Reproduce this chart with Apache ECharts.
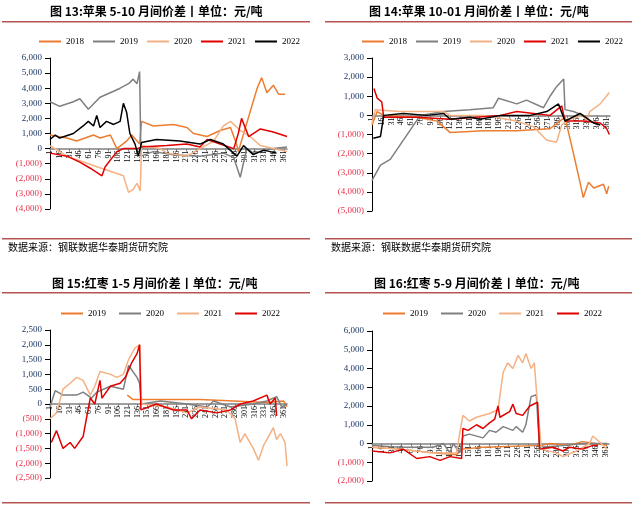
<!DOCTYPE html>
<html>
<head>
<meta charset="utf-8">
<script src="https://cdn.jsdelivr.net/npm/echarts@6/dist/echarts.min.js"></script>
<style>html,body{margin:0;padding:0;background:#fff}#c{width:634px;height:505px}</style>
</head>
<body>
<div id="c"></div>
<script>
// day (1..366), value pairs
var days = [];
for (var d = 1; d <= 366; d++) days.push(String(d));

// 图13 苹果5-10
var a510_2018 = [[1,900],[27,700],[42,500],[68,900],[78,700],[94,900],[104,0],[119,500],[127,900],[135,500],[139,300],[142,1800],[160,1500],[191,1600],[212,1400],[222,1000],[243,800],[263,1200],[279,1400],[289,200],[291,-200],[320,4000],[327,4700],[335,3700],[345,4200],[353,3600],[363,3600]];
var a510_2019 = [[1,3100],[16,2800],[37,3100],[47,3300],[60,2600],[78,3400],[99,3800],[109,4000],[122,4300],[129,4600],[135,4300],[139,5100],[141,-500],[160,-200],[191,-400],[232,-500],[268,-300],[284,-600],[294,-1900],[304,0],[314,-300],[345,0],[366,100]];
var a510_2020 = [[1,200],[27,-500],[73,-1200],[94,-1500],[114,-1800],[122,-2900],[129,-2700],[135,-2300],[140,-2800],[142,200],[171,0],[181,-300],[212,-500],[232,0],[253,500],[268,1500],[279,1800],[294,1200],[309,800],[325,200],[345,0],[366,-200]];
var a510_2021 = [[1,-300],[27,-500],[47,-900],[63,-1300],[81,-1800],[86,-1200],[104,-200],[114,0],[135,0],[142,100],[181,200],[212,300],[232,100],[243,600],[263,300],[284,0],[291,1000],[296,2000],[307,800],[325,1300],[345,1100],[366,800]];
var a510_2022 = [[1,600],[9,900],[16,700],[37,1000],[52,1500],[60,1800],[68,1500],[73,2200],[78,1400],[88,1800],[99,1600],[109,1800],[114,3000],[119,2400],[124,1000],[132,300],[137,-500],[142,400],[165,600],[201,500],[232,300],[248,600],[268,300],[289,-500],[299,200],[314,-400],[330,-100],[350,-300]];

// 图14 苹果10-01
var a1001_2018 = [[1,-500],[9,200],[19,0],[70,-100],[101,-300],[121,-900],[172,-800],[223,-800],[274,-700],[289,-300],[297,-100],[310,-2000],[320,-3500],[325,-4300],[333,-3500],[341,-3800],[356,-3600],[361,-4100],[364,-3700]];
var a1001_2019 = [[1,-3400],[14,-2600],[29,-2300],[75,0],[111,200],[151,300],[187,400],[195,900],[223,600],[238,800],[264,400],[274,1000],[284,1500],[295,1900],[297,300],[310,200],[325,0],[330,-300]];
var a1001_2020 = [[1,-400],[6,300],[44,200],[111,200],[121,0],[172,0],[223,-300],[249,-600],[269,-1300],[284,-1400],[292,-500],[304,-200],[325,0],[330,-300],[335,200],[351,600],[365,1200]];
var a1001_2021 = [[4,1400],[9,900],[16,700],[19,-100],[70,-100],[121,-200],[198,0],[223,200],[249,100],[274,0],[292,500],[297,-300],[325,-300],[351,-400],[361,-700],[365,-1000]];
var a1001_2022 = [[3,-1200],[14,-1100],[16,-1200],[19,0],[49,100],[85,0],[111,100],[121,-200],[151,-100],[167,-200],[198,0],[244,0],[269,200],[287,600],[297,-300],[320,100],[341,-400],[351,-500]];

// 图15 红枣1-5
var j15_2019 = [[120,300],[129,150],[145,150],[232,150],[284,100],[335,50],[361,100],[366,-100]];
var j15_2020 = [[1,-100],[9,450],[21,300],[42,300],[52,400],[65,200],[73,400],[94,600],[114,500],[122,1300],[135,900],[139,700],[142,0],[171,100],[212,0],[243,-100],[253,100],[279,-100],[314,0],[335,100],[350,250],[358,-100],[366,0]];
var j15_2021 = [[1,-500],[11,-300],[21,500],[32,700],[42,900],[52,800],[63,300],[70,600],[78,1100],[94,1000],[104,900],[114,1000],[122,1500],[132,1900],[139,2000],[142,0],[181,-100],[212,-300],[232,-100],[273,-200],[286,-500],[294,-1300],[301,-1000],[314,-1500],[322,-1900],[330,-1400],[335,-1200],[345,-800],[350,-1200],[356,-1000],[363,-1300],[366,-2100]];
var j15_2022 = [[3,-1300],[11,-900],[21,-1500],[32,-1300],[39,-1500],[52,-1100],[57,-500],[63,200],[70,0],[78,800],[81,200],[94,600],[109,700],[117,900],[127,1400],[135,1700],[139,2000],[141,-200],[165,0],[191,-200],[212,-200],[219,-500],[232,-200],[258,-300],[279,-200],[294,0],[314,100],[335,300],[340,0],[348,200],[350,-400]];

// 图16 红枣5-9
var j16_2019 = [[1,-200],[44,-300],[95,-500],[131,-600],[140,-300],[172,-200],[263,-100],[275,0],[304,-100],[325,100],[345,0],[363,-100]];
var j16_2020 = [[1,-100],[44,-200],[95,-200],[111,0],[121,-500],[126,0],[136,-500],[141,400],[151,500],[172,300],[182,700],[192,600],[203,900],[218,700],[223,900],[233,600],[238,1000],[246,2500],[254,2600],[259,-200],[300,-100],[325,0],[363,0]];
var j16_2021 = [[1,-200],[44,-300],[95,-500],[131,-500],[141,1500],[151,1200],[162,1400],[182,1600],[195,1800],[203,3800],[210,4300],[218,4000],[226,4700],[233,4300],[238,4800],[246,4000],[251,4300],[256,2000],[262,-300],[285,-500],[295,-700],[316,-400],[336,0],[341,400],[354,0],[363,-300]];
var j16_2022 = [[1,-400],[29,-500],[49,-300],[70,-800],[90,-700],[106,-900],[121,-700],[139,-800],[141,800],[149,700],[162,1000],[172,800],[182,1100],[190,1300],[195,2000],[198,1400],[213,1700],[218,2100],[223,1600],[233,1500],[244,2000],[256,2200],[259,-300],[280,-200],[295,-400],[305,-200],[326,-300],[341,-100],[349,-100]];

var C = {o:'#ED7D31', g:'#7F7F7F', l:'#F4B183', r:'#E00000', k:'#000000'};
var FONT = 'Liberation Serif';

var grids = [
  {left:50, top:58, width:237, height:151},
  {left:372, top:58, width:238, height:153},
  {left:50, top:330, width:237, height:148},
  {left:372, top:331, width:237, height:150}
];
var ymins = [-4000,-5000,-2500,-2000], ymaxs = [6000,3000,2500,6000], yints = [1000,1000,500,1000];

function fmt(v){
  var s = Math.abs(v).toString().replace(/\B(?=(\d{3})+(?!\d))/g, ',');
  return v < 0 ? '{n|(' + s + ')}' : s;
}

var xAxis = [], yAxis = [], series = [], legend = [];
grids.forEach(function(g, i){
  // put the category axis on the zero line
  var zeroOff = g.height * (0 - ymins[i]) / (ymaxs[i] - ymins[i]);
  xAxis.push({type:'category', gridIndex:i, data:days, boundaryGap:false, offset:-zeroOff,
    axisLine:{onZero:false, lineStyle:{color:'#808080', width:1.5}},
    axisTick:{show:true, interval:14, length:3, lineStyle:{color:'#808080'}},
    axisLabel:{interval:14, rotate:90, fontSize:8, fontFamily:FONT, color:'#000', margin:2},
    splitLine:{show:false}});
  yAxis.push({type:'value', gridIndex:i, min:ymins[i], max:ymaxs[i], interval:yints[i],
    axisLine:{show:true, lineStyle:{color:'#000'}},
    axisTick:{show:true, lineStyle:{color:'#000'}},
    splitLine:{show:false},
    axisLabel:{fontSize:9, fontFamily:FONT, color:'#1F3864', formatter:fmt,
      rich:{n:{color:'#E8334A', fontSize:9, fontFamily:FONT}}}});
});

function addSeries(gi, name, color, data){
  series.push({type:'line', name:name, xAxisIndex:gi, yAxisIndex:gi, showSymbol:false,
    data:data.map(function(p){ return [p[0]-1, p[1]]; }),
    lineStyle:{color:color, width:1.5}, itemStyle:{color:color}, animation:false});
}
addSeries(0,'2018',C.o,a510_2018); addSeries(0,'2019',C.g,a510_2019); addSeries(0,'2020',C.l,a510_2020); addSeries(0,'2021',C.r,a510_2021); addSeries(0,'2022',C.k,a510_2022);
addSeries(1,'2018 ',C.o,a1001_2018); addSeries(1,'2019 ',C.g,a1001_2019); addSeries(1,'2020 ',C.l,a1001_2020); addSeries(1,'2021 ',C.r,a1001_2021); addSeries(1,'2022 ',C.k,a1001_2022);
addSeries(2,'2019  ',C.o,j15_2019); addSeries(2,'2020  ',C.g,j15_2020); addSeries(2,'2021  ',C.l,j15_2021); addSeries(2,'2022  ',C.r,j15_2022);
addSeries(3,'2019   ',C.o,j16_2019); addSeries(3,'2020   ',C.g,j16_2020); addSeries(3,'2021   ',C.l,j16_2021); addSeries(3,'2022   ',C.r,j16_2022);

function leg(names, left, top, w, gap){
  return {data:names, left:left, top:top, icon:'rect', itemWidth:w, itemHeight:2, itemGap:gap,
    formatter:function(n){ return n.trim(); },
    textStyle:{fontSize:9, fontFamily:FONT, color:'#000'}};
}
legend = [
  leg(['2018','2019','2020','2021','2022'], 34, 32, 22, 9),
  leg(['2018 ','2019 ','2020 ','2021 ','2022 '], 357, 32, 22, 9),
  leg(['2019  ','2020  ','2021  ','2022  '], 56, 304, 22, 13),
  leg(['2019   ','2020   ','2021   ','2022   '], 378, 304, 22, 13)
];

function title(text, x, y){
  return {type:'text', left:x, top:y, style:{text:text, font:'bold 12px "Noto Sans CJK SC"', fill:'#000'}};
}
function rule(x, y, w){
  return {type:'rect', shape:{x:x, y:y, width:w, height:1.5}, style:{fill:'#B85450'}};
}
var graphic = [
  title('图 13:苹果 5-10 月间价差丨单位：元/吨', 50, 5),
  title('图 14:苹果 10-01 月间价差丨单位：元/吨', 369, 5),
  title('图 15:红枣 1-5 月间价差丨单位：元/吨', 52, 277),
  title('图 16:红枣 5-9 月间价差丨单位：元/吨', 374, 277),
  rule(2, 21, 308), rule(325, 21, 307), rule(2, 238, 308), rule(325, 238, 307),
  rule(2, 292, 308), rule(325, 292, 307), rule(2, 502, 308), rule(325, 502, 307),
  {type:'text', left:8, top:242, style:{text:'数据来源：钢联数据华泰期货研究院', font:'10px "Noto Sans CJK SC"', fill:'#000'}},
  {type:'text', left:331, top:242, style:{text:'数据来源：钢联数据华泰期货研究院', font:'10px "Noto Sans CJK SC"', fill:'#000'}}
];

var chart = echarts.init(document.getElementById('c'));
chart.setOption({animation:false, backgroundColor:'#fff', grid:grids, xAxis:xAxis, yAxis:yAxis,
  series:series, legend:legend, graphic:graphic});
</script>
</body>
</html>
